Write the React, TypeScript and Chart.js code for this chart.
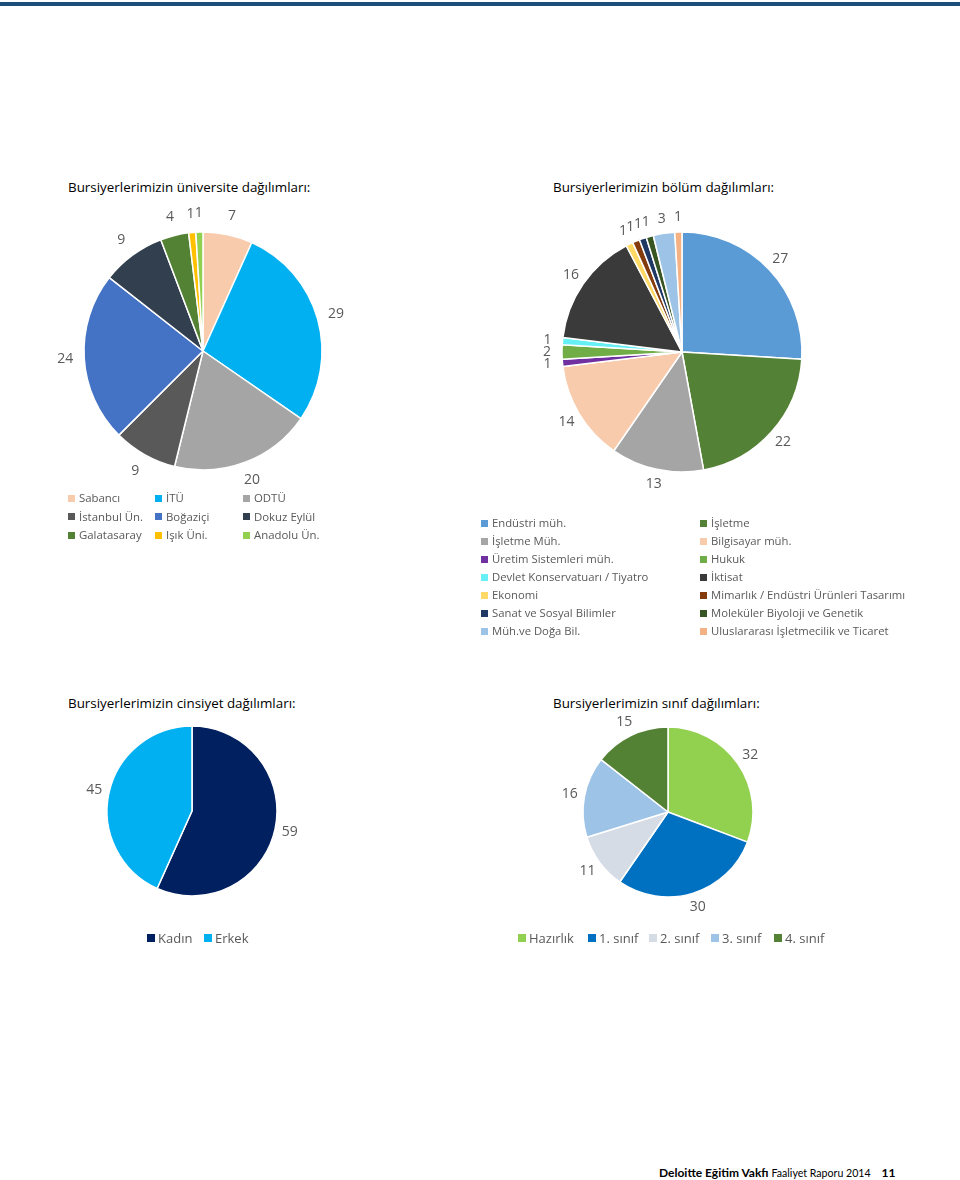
import React, { useEffect, useRef } from "react";
import { Chart, registerables } from "chart.js";
Chart.register(...registerables);

const FONT = "'Open Sans', 'Noto Sans', sans-serif";
const FOOT_FONT = "Lato, 'Open Sans', sans-serif";

const uniTitle = "Bursiyerlerimizin üniversite dağılımları:";
const uniLabels = ["Sabancı", "İTÜ", "ODTÜ", "İstanbul Ün.", "Boğaziçi", "Dokuz Eylül", "Galatasaray", "Işık Üni.", "Anadolu Ün."];
const uniValues = [7, 29, 20, 9, 24, 9, 4, 1, 1];
const uniColors = ["#F8CBAD", "#00B0F0", "#A5A5A5", "#595959", "#4472C4", "#323F4F", "#548235", "#FFC000", "#92D050"];

const deptTitle = "Bursiyerlerimizin bölüm dağılımları:";
const deptLabels = [
  "Endüstri müh.", "İşletme", "İşletme Müh.", "Bilgisayar müh.", "Üretim Sistemleri müh.", "Hukuk",
  "Devlet Konservatuarı / Tiyatro", "İktisat", "Ekonomi", "Mimarlık / Endüstri Ürünleri Tasarımı",
  "Sanat ve Sosyal Bilimler", "Moleküler Biyoloji ve Genetik", "Müh.ve Doğa Bil.", "Uluslararası İşletmecilik ve Ticaret",
];
const deptValues = [27, 22, 13, 14, 1, 2, 1, 16, 1, 1, 1, 1, 3, 1];
const deptColors = ["#5B9BD5", "#538135", "#A5A5A5", "#F8CBAD", "#7030A0", "#70AD47", "#66F0F5", "#3A3A3A", "#FFD966", "#843C0C", "#203864", "#375623", "#9DC3E6", "#F4B183"];

const genderTitle = "Bursiyerlerimizin cinsiyet dağılımları:";
const genderLabels = ["Kadın", "Erkek"];
const genderValues = [59, 45];
const genderColors = ["#002060", "#00B0F0"];

const classTitle = "Bursiyerlerimizin sınıf dağılımları:";
const classLabels = ["Hazırlık", "1. sınıf", "2. sınıf", "3. sınıf", "4. sınıf"];
const classValues = [32, 30, 11, 16, 15];
const classColors = ["#92D050", "#0070C0", "#D6DCE5", "#9DC3E6", "#548235"];

const outLabels = {
  id: "outLabels",
  afterDatasetsDraw(chart: any, _args: any, opts: any) {
    const ctx = chart.ctx;
    const meta = chart.getDatasetMeta(0);
    const ds = chart.data.datasets[0];
    ctx.save();
    ctx.font = `${opts.size || 14}px ${FONT}`;
    ctx.fillStyle = opts.color || "#595959";
    ctx.textAlign = "center";
    ctx.textBaseline = "middle";
    meta.data.forEach((arc: any, i: number) => {
      const p = arc.getProps(["x", "y", "startAngle", "endAngle", "outerRadius"], true);
      const mid = (p.startAngle + p.endAngle) / 2;
      const d = p.outerRadius + (opts.offset ?? 16);
      ctx.fillText(String(ds.data[i]), p.x + Math.cos(mid) * d, p.y + Math.sin(mid) * d);
    });
    ctx.restore();
  },
};

type PieProps = {
  labels: string[];
  values: number[];
  colors: string[];
  cx: number;
  cy: number;
  r: number;
  size: number;
  offset: number;
};

function Pie({ labels, values, colors, cx, cy, r, size, offset }: PieProps) {
  const ref = useRef<HTMLCanvasElement | null>(null);
  useEffect(() => {
    if (!ref.current) return;
    const bw = 1.5;
    const pad = size / 2 - r - bw / 2;
    const chart = new Chart(ref.current, {
      type: "pie",
      data: {
        labels,
        datasets: [{ data: values, backgroundColor: colors, borderColor: "#ffffff", borderWidth: bw }],
      },
      options: {
        responsive: false,
        animation: false,
        layout: { padding: pad },
        plugins: {
          legend: { display: false },
          tooltip: { enabled: false },
          outLabels: { offset, size: 14, color: "#595959" },
        } as any,
      },
      plugins: [outLabels as any],
    });
    return () => chart.destroy();
  }, []);
  return (
    <canvas
      ref={ref}
      width={size}
      height={size}
      style={{ position: "absolute", left: cx - size / 2, top: cy - size / 2, width: size, height: size }}
    />
  );
}

function Text({ x, y, size, children, color = "#000", weight = 400 }: any) {
  const lh = Math.round(size * 1.4);
  return (
    <div
      style={{
        position: "absolute",
        left: x,
        top: y - lh / 2,
        fontSize: size,
        lineHeight: lh + "px",
        color,
        fontWeight: weight,
        whiteSpace: "nowrap",
        fontFamily: FONT,
      }}
    >
      {children}
    </div>
  );
}

function LegendItem({ x, y, color, label, size, sq, gap }: any) {
  const lh = Math.round(size * 1.4);
  return (
    <div
      style={{
        position: "absolute",
        left: x,
        top: y - lh / 2,
        height: lh,
        display: "flex",
        alignItems: "center",
        fontSize: size,
        lineHeight: lh + "px",
        color: "#595959",
        whiteSpace: "nowrap",
        fontFamily: FONT,
      }}
    >
      <span style={{ display: "inline-block", width: sq, height: sq, background: color, marginRight: gap }} />
      <span>{label}</span>
    </div>
  );
}

export default function App() {
  const uniColX = [68, 155, 243];
  const deptColX = [481, 700];
  const genderX = [147, 204];
  const classX = [518, 588, 649, 711, 774];
  return (
    <div
      style={{
        position: "absolute",
        left: 0,
        top: 0,
        width: 960,
        height: 1180,
        background: "#ffffff",
        overflow: "hidden",
        fontFamily: FONT,
      }}
    >
      <div style={{ position: "absolute", left: 0, top: 2, width: 960, height: 4, background: "#1C4E7B" }} />

      <Text x={68} y={187} size={13.4}>{uniTitle}</Text>
      <Pie labels={uniLabels} values={uniValues} colors={uniColors} cx={203} cy={351} r={119} size={340} offset={19} />
      {uniLabels.map((l, i) => (
        <LegendItem key={l} x={uniColX[i % 3]} y={498 + Math.floor(i / 3) * 18.5} color={uniColors[i]} label={l} size={11.4} sq={7} gap={4} />
      ))}

      <Text x={553} y={187} size={13.4}>{deptTitle}</Text>
      <Pie labels={deptLabels} values={deptValues} colors={deptColors} cx={682} cy={352} r={120} size={340} offset={15} />
      {deptLabels.map((l, i) => (
        <LegendItem key={l} x={deptColX[i % 2]} y={523 + Math.floor(i / 2) * 18} color={deptColors[i]} label={l} size={11.3} sq={7} gap={4} />
      ))}

      <Text x={68} y={703} size={13.4}>{genderTitle}</Text>
      <Pie labels={genderLabels} values={genderValues} colors={genderColors} cx={192} cy={811} r={85} size={260} offset={15} />
      {genderLabels.map((l, i) => (
        <LegendItem key={l} x={genderX[i]} y={938} color={genderColors[i]} label={l} size={13} sq={8} gap={3} />
      ))}

      <Text x={553} y={703} size={13.4}>{classTitle}</Text>
      <Pie labels={classLabels} values={classValues} colors={classColors} cx={668} cy={812} r={85} size={260} offset={15} />
      {classLabels.map((l, i) => (
        <LegendItem key={l} x={classX[i]} y={938} color={classColors[i]} label={l} size={13} sq={8} gap={3} />
      ))}

      <div
        style={{
          position: "absolute",
          left: 659,
          top: 1162,
          lineHeight: "18px",
          color: "#000",
          whiteSpace: "nowrap",
          fontFamily: FOOT_FONT,
        }}
      >
        <b style={{ fontSize: 12 }}>Deloitte Eğitim Vakfı</b>
        <span style={{ fontSize: 10.6, marginLeft: 3 }}>Faaliyet Raporu 2014</span>
        <b style={{ fontSize: 12, marginLeft: 11 }}>11</b>
      </div>
    </div>
  );
}
